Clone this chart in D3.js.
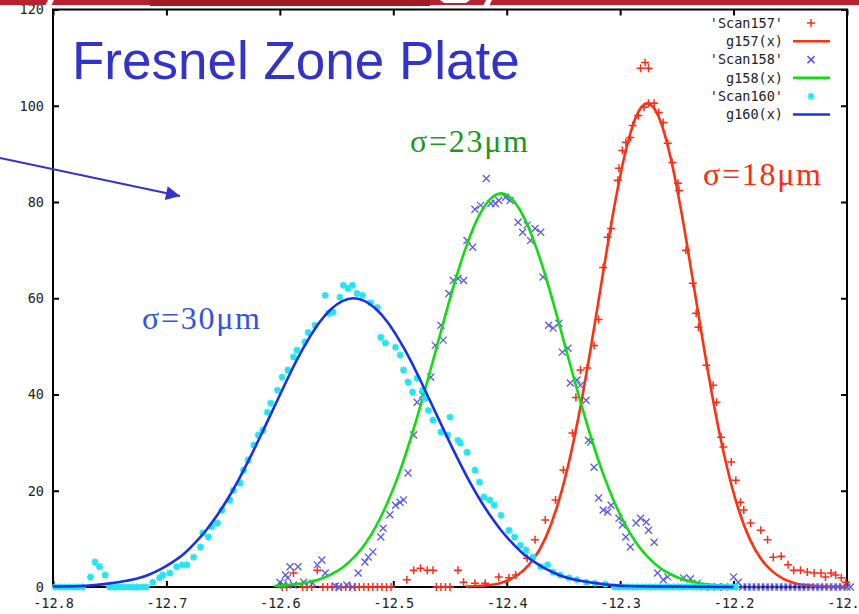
<!DOCTYPE html>
<html>
<head>
<meta charset="utf-8">
<script src="https://cdn.jsdelivr.net/npm/d3@7"></script>
<style>
body { margin: 0; background: #fff; }
svg { display: block; }
</style>
</head>
<body>
<div id="chart"></div>
<script>
const xTicks = [-12.8, -12.7, -12.6, -12.5, -12.4, -12.3, -12.2, -12.1]
const yTicks = [0, 20, 40, 60, 80, 100, 120]

// Scan157 (red +)
const scan157 = [
  [-12.588, 2.9], [-12.567, 3.5], [-12.488, 1.5], [-12.482, 3.5], [-12.476, 3.9], [-12.470, 3.5],
  [-12.465, 3.5], [-12.443, 3.5], [-12.438, 1.0], [-12.428, 0.8], [-12.419, 0.8], [-12.407, 2.1],
  [-12.398, 1.9], [-12.392, 2.5], [-12.382, 6.0], [-12.375, 9.8], [-12.366, 13.9], [-12.357, 18.1],
  [-12.350, 24.3], [-12.342, 32.0], [-12.339, 39.4], [-12.335, 45.1], [-12.329, 45.5], [-12.323, 50.2],
  [-12.319, 55.6], [-12.315, 66.4], [-12.311, 72.7], [-12.308, 74.5], [-12.302, 84.5], [-12.301, 87.0],
  [-12.298, 90.7], [-12.295, 92.4], [-12.291, 93.4], [-12.289, 95.9], [-12.284, 98.0], [-12.279, 99.7],
  [-12.275, 100.5], [-12.270, 100.5], [-12.282, 107.8], [-12.278, 109.0], [-12.275, 107.8],
  [-12.266, 98.6], [-12.262, 96.5], [-12.258, 92.2], [-12.254, 88.2], [-12.249, 83.9], [-12.248, 82.4],
  [-12.242, 70.0], [-12.236, 63.1], [-12.233, 56.9], [-12.231, 54.0], [-12.224, 46.1], [-12.218, 41.9],
  [-12.215, 38.4], [-12.211, 31.1], [-12.209, 29.1], [-12.202, 26.0], [-12.198, 22.2], [-12.194, 17.6],
  [-12.191, 16.0], [-12.185, 13.3], [-12.176, 11.8], [-12.170, 9.8], [-12.165, 6.2], [-12.158, 6.4],
  [-12.152, 4.6], [-12.147, 3.5], [-12.141, 3.5], [-12.135, 3.1], [-12.129, 2.9], [-12.123, 2.9],
  [-12.119, 2.1], [-12.114, 2.9], [-12.110, 2.5], [-12.105, 1.9], [-12.101, 1.0]
]
const scan157Zeros = [-12.598, -12.594, -12.580, -12.576, -12.572, -12.562, -12.558, -12.554, -12.550,
  -12.546, -12.542, -12.538, -12.534, -12.530, -12.526, -12.522, -12.518, -12.514, -12.510, -12.506,
  -12.502, -12.462, -12.458, -12.454, -12.450]

// g157(x) fit
const g157 = [
  [-12.436, 0.1], [-12.426, 0.2], [-12.416, 0.4], [-12.406, 0.8], [-12.396, 1.7], [-12.386, 3.3],
  [-12.376, 5.9], [-12.366, 10.1], [-12.356, 16.4], [-12.346, 25.1], [-12.336, 36.2], [-12.326, 49.5],
  [-12.316, 63.9], [-12.306, 77.9], [-12.296, 89.7], [-12.286, 97.7], [-12.276, 100.5], [-12.266, 97.7],
  [-12.256, 89.7], [-12.246, 77.9], [-12.236, 63.9], [-12.226, 49.5], [-12.216, 36.2], [-12.206, 25.1],
  [-12.196, 16.4], [-12.186, 10.1], [-12.176, 5.9], [-12.166, 3.3], [-12.156, 1.7], [-12.146, 0.8],
  [-12.136, 0.4], [-12.126, 0.2], [-12.116, 0.1], [-12.100, 0.05]
]

// Scan158 (blue x)
const scan158 = [
  [-12.600, 1.0], [-12.597, 0.4], [-12.595, 2.5], [-12.593, 1.9], [-12.591, 4.2], [-12.588, 0.4],
  [-12.584, 4.2], [-12.579, 1.0], [-12.571, 0.8], [-12.567, 4.6], [-12.563, 5.6], [-12.560, 2.9],
  [-12.551, 0.2], [-12.541, 0.4], [-12.531, 2.9], [-12.525, 5.2], [-12.522, 6.2], [-12.518, 7.3],
  [-12.511, 10.4], [-12.509, 12.2], [-12.503, 15.0], [-12.498, 17.0], [-12.494, 17.6], [-12.491, 18.1],
  [-12.487, 23.7], [-12.482, 31.6], [-12.479, 38.4], [-12.474, 39.9], [-12.467, 43.6], [-12.463, 50.2],
  [-12.458, 54.4], [-12.456, 51.3], [-12.451, 61.0], [-12.447, 63.7], [-12.443, 64.1], [-12.438, 63.7],
  [-12.435, 72.0], [-12.430, 70.6], [-12.428, 78.5], [-12.423, 79.3], [-12.418, 84.9], [-12.414, 79.7],
  [-12.410, 79.7], [-12.407, 80.3], [-12.401, 81.0], [-12.397, 80.3], [-12.390, 75.8], [-12.386, 73.7],
  [-12.382, 75.2], [-12.379, 72.0], [-12.375, 74.5], [-12.370, 73.7], [-12.368, 64.4], [-12.363, 54.4],
  [-12.359, 53.8], [-12.354, 54.8], [-12.351, 48.8], [-12.346, 49.6], [-12.344, 42.4], [-12.338, 43.0],
  [-12.335, 41.9], [-12.330, 38.8], [-12.328, 30.5], [-12.326, 30.1], [-12.323, 24.9], [-12.319, 18.5],
  [-12.315, 16.0], [-12.311, 15.6], [-12.308, 17.0], [-12.301, 14.3], [-12.298, 12.9], [-12.295, 10.4],
  [-12.291, 8.3], [-12.286, 13.3], [-12.282, 14.3], [-12.277, 13.5], [-12.275, 11.8], [-12.270, 9.3],
  [-12.267, 2.9], [-12.262, 1.5], [-12.258, 2.1], [-12.244, 1.9], [-12.238, 1.7], [-12.232, 0.8],
  [-12.200, 2.1], [-12.196, 1.0]
]
const scan158Zeros = [-12.548, -12.536, -12.226, -12.220, -12.214, -12.208, -12.192, -12.188, -12.184,
  -12.180, -12.176, -12.172, -12.168, -12.164, -12.160, -12.156, -12.152, -12.148, -12.144, -12.140,
  -12.136, -12.132, -12.128, -12.124, -12.120, -12.116, -12.112, -12.108, -12.104, -12.100, -12.097]

// g158(x) fit
const g158 = [
  [-12.605, 0.2], [-12.585, 0.6], [-12.575, 1.0], [-12.565, 1.6], [-12.555, 2.6], [-12.545, 4.0],
  [-12.535, 6.1], [-12.525, 8.9], [-12.515, 12.7], [-12.505, 17.6], [-12.495, 23.5], [-12.485, 30.6],
  [-12.475, 38.5], [-12.465, 47.0], [-12.455, 55.7], [-12.445, 64.0], [-12.435, 71.2], [-12.425, 76.9],
  [-12.415, 80.5], [-12.405, 81.8], [-12.395, 80.5], [-12.385, 76.9], [-12.375, 71.2], [-12.365, 64.0],
  [-12.355, 55.7], [-12.345, 47.0], [-12.335, 38.5], [-12.325, 30.6], [-12.315, 23.5], [-12.305, 17.6],
  [-12.295, 12.7], [-12.285, 8.9], [-12.275, 6.1], [-12.265, 4.0], [-12.255, 2.6], [-12.245, 1.6],
  [-12.235, 1.0], [-12.225, 0.6], [-12.205, 0.2]
]

// Scan160 (cyan *)
const scan160 = [
  [-12.767, 2.1], [-12.763, 5.2], [-12.759, 4.2], [-12.754, 2.5], [-12.712, 1.0], [-12.706, 1.9],
  [-12.703, 2.5], [-12.697, 2.9], [-12.691, 4.2], [-12.686, 4.6], [-12.682, 4.6], [-12.676, 6.2],
  [-12.670, 8.3], [-12.668, 11.2], [-12.663, 10.4], [-12.660, 12.5], [-12.655, 13.3], [-12.651, 16.0],
  [-12.644, 18.1], [-12.641, 20.1], [-12.635, 21.6], [-12.632, 24.3], [-12.628, 26.4], [-12.623, 29.5],
  [-12.619, 31.6], [-12.615, 32.6], [-12.611, 36.3], [-12.608, 38.2], [-12.602, 40.9], [-12.598, 43.6],
  [-12.593, 45.1], [-12.588, 47.8], [-12.585, 49.2], [-12.578, 50.9], [-12.575, 52.9], [-12.569, 54.4],
  [-12.560, 60.6], [-12.557, 56.9], [-12.553, 57.1], [-12.547, 60.2], [-12.544, 62.7], [-12.540, 62.1],
  [-12.536, 62.7], [-12.532, 61.0], [-12.527, 60.6], [-12.520, 59.0], [-12.514, 58.1], [-12.511, 51.9],
  [-12.507, 50.7], [-12.498, 49.8], [-12.494, 48.2], [-12.491, 45.1], [-12.487, 42.6], [-12.483, 40.5],
  [-12.479, 43.4], [-12.474, 40.9], [-12.472, 39.2], [-12.469, 36.7], [-12.465, 34.7], [-12.458, 32.2],
  [-12.452, 31.6], [-12.450, 35.3], [-12.443, 30.5], [-12.441, 29.9], [-12.435, 28.0], [-12.428, 24.3],
  [-12.424, 21.8], [-12.420, 18.7], [-12.415, 18.1], [-12.411, 17.0], [-12.405, 14.9], [-12.398, 11.8],
  [-12.393, 10.4], [-12.388, 8.7], [-12.383, 7.7], [-12.377, 6.2], [-12.370, 4.2], [-12.364, 4.6],
  [-12.359, 3.1], [-12.353, 2.5], [-12.345, 1.9], [-12.338, 1.5], [-12.330, 1.0], [-12.322, 0.8],
  [-12.313, 0.6]
]
const scan160Zeros = [-12.798, -12.794, -12.790, -12.786, -12.782, -12.778, -12.774, -12.750, -12.746,
  -12.742, -12.738, -12.734, -12.730, -12.726, -12.722, -12.718, -12.305, -12.301, -12.297, -12.293,
  -12.289, -12.285, -12.281, -12.277, -12.273, -12.269, -12.265, -12.261, -12.257, -12.253, -12.249,
  -12.245, -12.241, -12.237, -12.233, -12.229, -12.225, -12.221, -12.217, -12.213, -12.209, -12.205,
  -12.201, -12.198]

// g160(x) fit
const g160 = [
  [-12.800, 0.1], [-12.775, 0.2], [-12.755, 0.6], [-12.735, 1.3], [-12.725, 1.8], [-12.715, 2.6],
  [-12.705, 3.7], [-12.695, 5.1], [-12.685, 6.8], [-12.675, 9.1], [-12.665, 11.8], [-12.655, 15.0],
  [-12.645, 18.7], [-12.635, 22.9], [-12.625, 27.5], [-12.615, 32.4], [-12.605, 37.4], [-12.595, 42.4],
  [-12.585, 47.2], [-12.575, 51.4], [-12.565, 55.0], [-12.555, 57.7], [-12.545, 59.4], [-12.535, 60.0],
  [-12.525, 59.4], [-12.515, 57.7], [-12.505, 55.0], [-12.495, 51.4], [-12.485, 47.2], [-12.475, 42.4],
  [-12.465, 37.4], [-12.455, 32.4], [-12.445, 27.5], [-12.435, 22.9], [-12.425, 18.7], [-12.415, 15.0],
  [-12.405, 11.8], [-12.395, 9.1], [-12.385, 6.8], [-12.375, 5.1], [-12.365, 3.7], [-12.355, 2.6],
  [-12.345, 1.8], [-12.335, 1.3], [-12.315, 0.6], [-12.295, 0.2], [-12.270, 0.1], [-12.200, 0.0]
]

const legendLabels = ["'Scan157'", "g157(x)", "'Scan158'", "g158(x)", "'Scan160'", "g160(x)"]
const legendKinds = ["plus", "line", "cross", "line", "star", "line"]
const legendColors = ["#ff2a1a", "#ff3010", "#5a5af0", "#10dd10", "#20e6f0", "#1a30e8"]

const sigmaLabels = ["σ=30μm", "σ=23μm", "σ=18μm"]
const sigmaColors = ["#3352e0", "#1a981a", "#ff2a10"]

const markerPaths = {
  plus: "M-4,0H4M0,-4V4",
  cross: "M-3.5,-3.5L3.5,3.5M-3.5,3.5L3.5,-3.5",
  star: "M-3.5,0H3.5M0,-3.5V3.5M-2.6,-2.6L2.6,2.6M-2.6,2.6L2.6,-2.6"
}

function draw_chart() {
  const width = 859, height = 614
  const svg = d3.select("#chart").append("svg")
    .attr("width", width).attr("height", height)
    .style("font-family", "'DejaVu Sans Mono', monospace")

  const x = d3.scaleLinear().domain([-12.8, -12.1]).range([53, 847])
  const y = d3.scaleLinear().domain([0, 120]).range([587, 9.5])

  // axes, gnuplot style: inward ticks mirrored on all four sides
  const tickStyle = g => {
    g.select(".domain").remove()
    g.selectAll("line").attr("stroke", "#000").attr("stroke-width", 2)
    g.selectAll("text").attr("fill", "#222").style("font-size", "13.5px")
      .style("font-family", "'DejaVu Sans Mono', monospace")
  }
  svg.append("g").attr("transform", "translate(53,0)")
    .call(d3.axisLeft(y).tickValues(yTicks).tickSize(-6).tickPadding(9).tickFormat(d => d))
    .call(tickStyle)
  svg.append("g").attr("transform", "translate(847,0)")
    .call(d3.axisRight(y).tickValues(yTicks).tickSize(-6).tickFormat(""))
    .call(tickStyle)
  svg.append("g").attr("transform", "translate(0,587)")
    .call(d3.axisBottom(x).tickValues(xTicks).tickSize(-6).tickPadding(11).tickFormat(d => d.toFixed(1)))
    .call(tickStyle)
  svg.append("g").attr("transform", `translate(0,${y(120)})`)
    .call(d3.axisTop(x).tickValues(xTicks).tickSize(-6).tickFormat(""))
    .call(tickStyle)
  svg.append("rect")
    .attr("x", x(-12.8)).attr("y", y(120))
    .attr("width", x(-12.1) - x(-12.8)).attr("height", y(0) - y(120))
    .attr("fill", "none").attr("stroke", "#000").attr("stroke-width", 2)

  const line = d3.line().x(d => x(d[0])).y(d => y(d[1])).curve(d3.curveMonotoneX)

  function draw_points(data, zeros, kind, color, sw) {
    const all = data.concat(zeros.map(z => [z, 0]))
    svg.append("g").selectAll("path").data(all).join("path")
      .attr("transform", d => `translate(${x(d[0])},${y(d[1])})`)
      .attr("d", markerPaths[kind])
      .attr("fill", "none").attr("stroke", color).attr("stroke-width", sw)
  }
  function draw_fit(data, color) {
    svg.append("path").datum(data)
      .attr("d", line).attr("fill", "none")
      .attr("stroke", color).attr("stroke-width", 2.6).attr("stroke-linejoin", "round")
  }

  // same order as the gnuplot plot command
  draw_points(scan157, scan157Zeros, "plus", legendColors[0], 1.5)
  draw_fit(g157, legendColors[1])
  draw_points(scan158, scan158Zeros, "cross", legendColors[2], 1.3)
  draw_fit(g158, legendColors[3])
  draw_points(scan160, scan160Zeros, "star", legendColors[4], 1.8)
  draw_fit(g160, legendColors[5])

  // legend
  const legend = svg.append("g")
  legendLabels.forEach((label, i) => {
    const ly = 23 + i * 18.3
    legend.append("text").attr("x", 783).attr("y", ly).attr("dy", "0.35em")
      .attr("text-anchor", "end").attr("fill", "#222").style("font-size", "13.5px")
      .text(label)
    if (legendKinds[i] === "line") {
      legend.append("line").attr("x1", 793).attr("x2", 830).attr("y1", ly).attr("y2", ly)
        .attr("stroke", legendColors[i]).attr("stroke-width", 2.6)
    } else {
      legend.append("path").attr("transform", `translate(811,${ly})`)
        .attr("d", markerPaths[legendKinds[i]]).attr("fill", "none")
        .attr("stroke", legendColors[i]).attr("stroke-width", 1.5)
    }
  })

  // annotations
  svg.append("text").attr("x", 72).attr("y", 79)
    .attr("fill", "#3333cc").style("font-family", "'Liberation Sans', Arial, sans-serif")
    .style("font-size", "53px").text("Fresnel Zone Plate")

  const sigmaPos = [[142, 329], [410, 152], [703, 185]]
  sigmaLabels.forEach((s, i) => {
    svg.append("text").attr("x", sigmaPos[i][0]).attr("y", sigmaPos[i][1])
      .attr("fill", sigmaColors[i]).attr("textLength", 118).attr("lengthAdjust", "spacing")
      .style("font-family", "'Liberation Serif', 'Times New Roman', serif")
      .style("font-size", "32px").text(s)
  })

  svg.append("defs").append("marker").attr("id", "arrowhead")
    .attr("viewBox", "0 0 10 10").attr("refX", 10).attr("refY", 5)
    .attr("markerWidth", 8).attr("markerHeight", 7).attr("markerUnits", "strokeWidth")
    .attr("orient", "auto")
    .append("path").attr("d", "M0,0L10,5L0,10z").attr("fill", "#3333cc")
  svg.append("line").attr("x1", 0).attr("y1", 158).attr("x2", 180).attr("y2", 196)
    .attr("stroke", "#3333cc").attr("stroke-width", 2).attr("marker-end", "url(#arrowhead)")

  // slide header band cut off at the top
  const band = svg.append("g")
  band.append("rect").attr("x", 0).attr("y", 0).attr("width", width).attr("height", 5).attr("fill", "#b8222e")
  band.append("rect").attr("x", 150).attr("y", 0).attr("width", 280).attr("height", 6).attr("fill", "#9e1c22")
  band.append("path").attr("d", "M48,0L54,0L51,6L45,6Z").attr("fill", "#fff")
  band.append("path").attr("d", "M440,0L470,0L466,3L444,3Z").attr("fill", "#fff")
  band.append("path").attr("d", "M486,0L492,0L489,6L483,6Z").attr("fill", "#fff")
}

draw_chart()
</script>
</body>
</html>
